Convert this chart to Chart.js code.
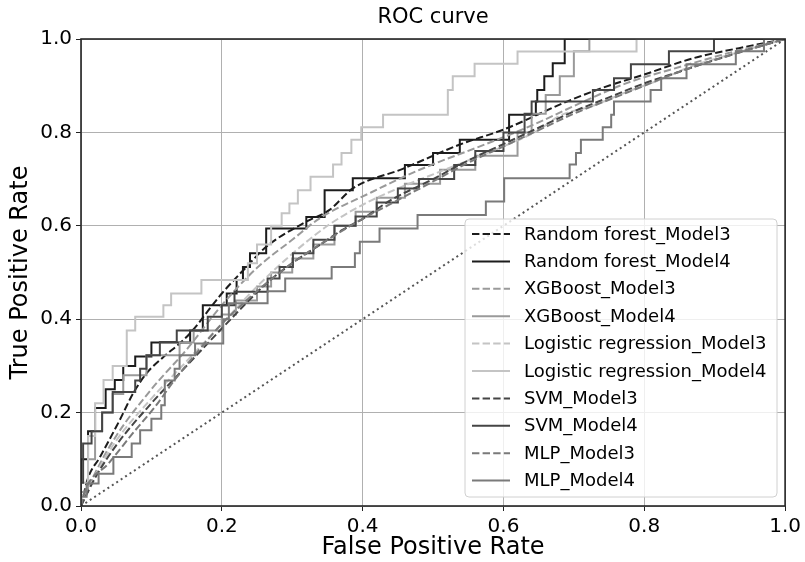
<!DOCTYPE html>
<html>
<head>
<meta charset="utf-8">
<script src="https://cdn.jsdelivr.net/npm/chart.js@4.4.1/dist/chart.umd.min.js"></script>
<style>
  html, body { margin: 0; padding: 0; background: #fff; }
</style>
</head>
<body>
<canvas id="roc" width="805" height="562"></canvas>
<script>
// ROC points, [fpr, tpr]
// step curves (Model4) are listed as the corner at the end of each flat run
const rf3 = [[0,0],[0.01,0.06],[0.027,0.105],[0.055,0.184],[0.074,0.241],[0.093,0.284],[0.117,0.319],[0.14,0.348],[0.155,0.37],[0.2,0.455],[0.235,0.512],[0.263,0.555],[0.32,0.609],[0.353,0.634],[0.386,0.68],[0.457,0.722],[0.538,0.774],[0.6,0.806],[0.69,0.866],[0.74,0.895],[0.8,0.924],[0.87,0.959],[0.96,0.988],[1,1]];
const rf4 = [[0,0],[0.01,0.1],[0.02,0.16],[0.035,0.21],[0.048,0.25],[0.06,0.27],[0.077,0.3],[0.1,0.32],[0.155,0.35],[0.173,0.376],[0.207,0.43],[0.221,0.455],[0.23,0.484],[0.24,0.512],[0.263,0.541],[0.32,0.594],[0.346,0.619],[0.386,0.676],[0.46,0.702],[0.5,0.73],[0.538,0.756],[0.608,0.784],[0.646,0.838],[0.648,0.866],[0.658,0.891],[0.67,0.92],[0.687,0.948],[1,1]];
const xgb3 = [[0,0],[0.02,0.07],[0.05,0.15],[0.1,0.25],[0.15,0.335],[0.2,0.43],[0.25,0.51],[0.3,0.57],[0.339,0.616],[0.41,0.67],[0.481,0.72],[0.575,0.775],[0.642,0.816],[0.708,0.862],[0.774,0.905],[0.85,0.94],[0.92,0.97],[1,1]];
const xgb4 = [[0,0],[0.01,0.03],[0.02,0.1],[0.03,0.16],[0.045,0.2],[0.06,0.24],[0.093,0.28],[0.14,0.323],[0.16,0.35],[0.2,0.376],[0.22,0.41],[0.25,0.44],[0.27,0.47],[0.3,0.5],[0.33,0.53],[0.36,0.56],[0.39,0.6],[0.42,0.63],[0.46,0.66],[0.51,0.69],[0.56,0.72],[0.62,0.75],[0.64,0.8],[0.66,0.84],[0.68,0.88],[0.7,0.92],[0.722,0.974],[1,1]];
const lr3 = [[0,0],[0.02,0.065],[0.05,0.14],[0.1,0.23],[0.15,0.31],[0.2,0.39],[0.25,0.47],[0.3,0.54],[0.35,0.6],[0.4,0.645],[0.45,0.68],[0.5,0.71],[0.55,0.74],[0.6,0.77],[0.65,0.805],[0.679,0.835],[0.727,0.857],[0.774,0.886],[0.821,0.912],[0.868,0.942],[0.916,0.964],[1,1]];
const lr4 = [[0,0],[0.01,0.05],[0.02,0.15],[0.032,0.22],[0.045,0.27],[0.065,0.3],[0.077,0.376],[0.117,0.405],[0.128,0.43],[0.171,0.455],[0.237,0.484],[0.25,0.52],[0.27,0.56],[0.285,0.6],[0.296,0.627],[0.308,0.648],[0.326,0.676],[0.358,0.705],[0.37,0.731],[0.384,0.756],[0.398,0.784],[0.429,0.811],[0.521,0.838],[0.528,0.891],[0.559,0.92],[0.62,0.947],[0.789,0.973],[1,1]];
const svm3 = [[0,0],[0.02,0.06],[0.05,0.13],[0.1,0.22],[0.15,0.3],[0.2,0.38],[0.263,0.476],[0.3,0.52],[0.34,0.56],[0.37,0.59],[0.4,0.615],[0.44,0.655],[0.5,0.7],[0.55,0.74],[0.6,0.775],[0.65,0.81],[0.7,0.845],[0.75,0.875],[0.8,0.905],[0.85,0.93],[0.9,0.955],[0.95,0.978],[1,1]];
const svm4 = [[0,0],[0.003,0.05],[0.015,0.134],[0.03,0.16],[0.045,0.2],[0.077,0.244],[0.084,0.269],[0.093,0.294],[0.112,0.323],[0.136,0.351],[0.18,0.376],[0.2,0.405],[0.218,0.43],[0.265,0.459],[0.282,0.487],[0.301,0.512],[0.33,0.541],[0.36,0.57],[0.39,0.6],[0.42,0.62],[0.45,0.65],[0.48,0.68],[0.53,0.7],[0.56,0.73],[0.6,0.76],[0.63,0.8],[0.64,0.84],[0.727,0.866],[0.757,0.891],[0.781,0.916],[0.835,0.946],[0.899,0.974],[1,1]];
const mlp3 = [[0,0],[0.006,0.034],[0.039,0.091],[0.077,0.162],[0.105,0.212],[0.133,0.27],[0.171,0.34],[0.2,0.39],[0.25,0.46],[0.3,0.52],[0.35,0.57],[0.4,0.615],[0.45,0.655],[0.5,0.695],[0.55,0.735],[0.6,0.77],[0.65,0.805],[0.7,0.84],[0.75,0.87],[0.8,0.9],[0.85,0.93],[0.9,0.955],[0.95,0.978],[1,1]];
const mlp4 = [[0,0],[0.008,0.02],[0.025,0.048],[0.046,0.069],[0.072,0.105],[0.084,0.134],[0.1,0.162],[0.114,0.187],[0.119,0.216],[0.133,0.269],[0.14,0.294],[0.162,0.323],[0.202,0.348],[0.21,0.4],[0.265,0.434],[0.29,0.46],[0.356,0.487],[0.389,0.512],[0.396,0.541],[0.424,0.566],[0.478,0.594],[0.575,0.623],[0.601,0.652],[0.694,0.702],[0.703,0.731],[0.71,0.756],[0.741,0.784],[0.753,0.811],[0.757,0.838],[0.809,0.866],[0.824,0.891],[0.86,0.916],[0.93,0.946],[0.97,0.974],[1,1]];
const chance = [[0,0],[1,1]];

const labels = ['Random forest_Model3', 'Random forest_Model4', 'XGBoost_Model3', 'XGBoost_Model4',
  'Logistic regression_Model3', 'Logistic regression_Model4', 'SVM_Model3', 'SVM_Model4', 'MLP_Model3', 'MLP_Model4'];
const tickLabels = ['0.0', '0.2', '0.4', '0.6', '0.8', '1.0'];

const FONT = "'DejaVu Sans', sans-serif";
const DASH = [7.4, 3.2];

function curve(label, pts, color, dashed) {
  return {
    label: label,
    data: pts.map(p => ({ x: p[0], y: p[1] })),
    borderColor: color,
    borderWidth: 2,
    borderDash: dashed ? DASH : [],
    pointRadius: 0,
    fill: false,
    stepped: dashed ? false : 'after',
    cubicInterpolationMode: dashed ? 'monotone' : 'default'
  };
}

const datasets = [
  curve(labels[0], rf3, '#1c1c1c', true),
  curve(labels[1], rf4, '#1c1c1c', false),
  curve(labels[2], xgb3, '#9a9a9a', true),
  curve(labels[3], xgb4, '#9a9a9a', false),
  curve(labels[4], lr3, '#c4c4c4', true),
  curve(labels[5], lr4, '#c4c4c4', false),
  curve(labels[6], svm3, '#454545', true),
  curve(labels[7], svm4, '#454545', false),
  curve(labels[8], mlp3, '#7a7a7a', true),
  curve(labels[9], mlp4, '#7a7a7a', false),
  {
    label: 'chance',
    data: chance.map(p => ({ x: p[0], y: p[1] })),
    borderColor: '#555',
    borderWidth: 2,
    borderDash: [2, 3.3],
    pointRadius: 0,
    fill: false
  }
];
// matplotlib draws later lines on top
datasets.forEach((d, i) => { d.order = -i; });

const decor = {
  id: 'decor',
  afterDatasetsDraw(chart) {
    const { ctx, chartArea: a } = chart;
    ctx.save();
    // frame
    ctx.strokeStyle = '#262626';
    ctx.lineWidth = 1.6;
    ctx.setLineDash([]);
    ctx.strokeRect(a.left, a.top, a.right - a.left, a.bottom - a.top);
    // title
    ctx.fillStyle = '#000';
    ctx.font = '21px ' + FONT;
    ctx.textAlign = 'center';
    ctx.textBaseline = 'middle';
    ctx.fillText('ROC curve', (a.left + a.right) / 2, 18);

    // legend box, lower right inside the axes
    const bx = 465, by = 219, bw = 312, bh = 278, r = 4;
    ctx.beginPath();
    ctx.moveTo(bx + r, by);
    ctx.arcTo(bx + bw, by, bx + bw, by + bh, r);
    ctx.arcTo(bx + bw, by + bh, bx, by + bh, r);
    ctx.arcTo(bx, by + bh, bx, by, r);
    ctx.arcTo(bx, by, bx + bw, by, r);
    ctx.closePath();
    ctx.fillStyle = 'rgba(255,255,255,0.8)';
    ctx.fill();
    ctx.strokeStyle = '#d0d0d0';
    ctx.lineWidth = 1;
    ctx.stroke();

    ctx.font = '18px ' + FONT;
    ctx.textAlign = 'left';
    const ds = chart.data.datasets;
    for (let i = 0; i < labels.length; i++) {
      const y = 234 + i * 27.4;
      ctx.beginPath();
      ctx.strokeStyle = ds[i].borderColor;
      ctx.lineWidth = 2;
      ctx.setLineDash(ds[i].borderDash);
      ctx.moveTo(472, y);
      ctx.lineTo(510, y);
      ctx.stroke();
      ctx.setLineDash([]);
      ctx.fillStyle = '#000';
      ctx.fillText(labels[i], 524, y + 1);
    }
    ctx.restore();
  }
};

function axis(title, fitFn, titlePad) {
  return {
    type: 'linear',
    min: 0,
    max: 1,
    ticks: {
      stepSize: 0.2,
      autoSkip: false,
      maxRotation: 0,
      color: '#000',
      padding: 4,
      font: { family: FONT, size: 20 },
      callback: (v) => tickLabels[Math.round(v * 5)]
    },
    grid: { color: '#b0b0b0', lineWidth: 1, tickLength: 5, tickColor: '#222' },
    border: { display: false },
    title: { display: true, text: title, color: '#000', font: { family: FONT, size: 24 }, padding: titlePad },
    afterFit: fitFn
  };
}

new Chart(document.getElementById('roc'), {
  type: 'line',
  data: { datasets: datasets },
  options: {
    responsive: false,
    animation: false,
    layout: { padding: { top: 39, right: 19, left: 0, bottom: 0 } },
    plugins: { legend: { display: false }, title: { display: false }, tooltip: { enabled: false } },
    scales: {
      x: axis('False Positive Rate', s => { s.height = 56; }, { top: 0, bottom: 0 }),
      y: axis('True Positive Rate', s => { s.width = 81; }, { top: 6, bottom: 0 })
    }
  },
  plugins: [decor]
});
</script>
</body>
</html>
